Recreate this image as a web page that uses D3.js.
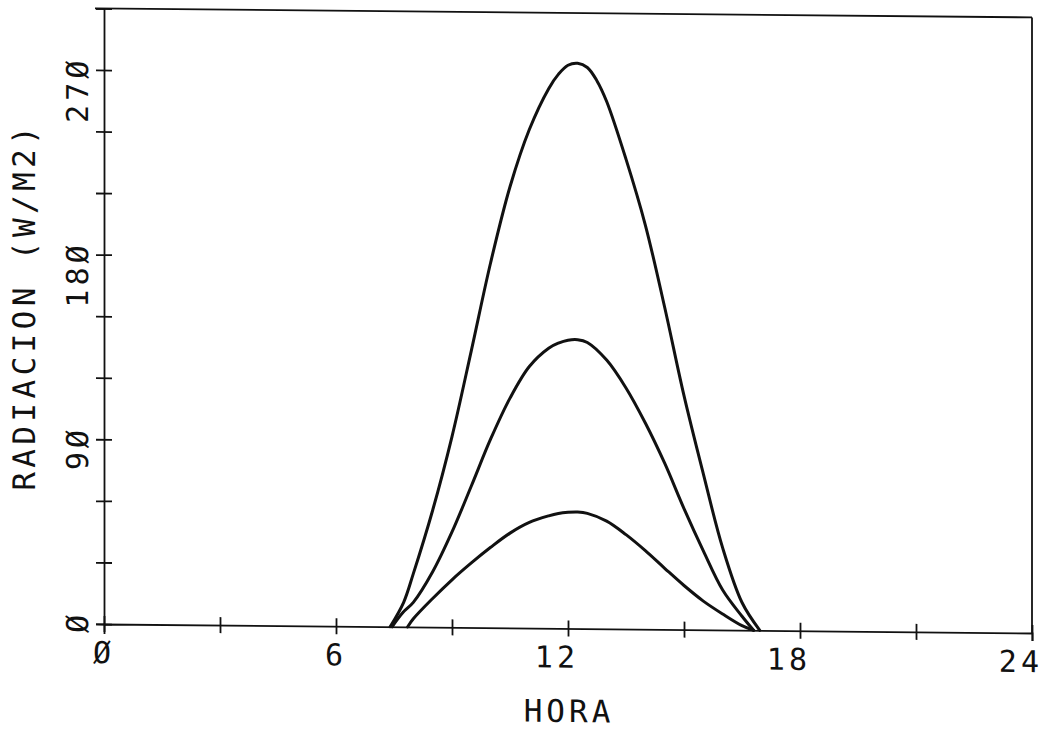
<!DOCTYPE html>
<html>
<head>
<meta charset="utf-8">
<script src="https://cdn.jsdelivr.net/npm/d3@7"></script>
<style>
  html, body { margin: 0; padding: 0; background: #fff; }
  svg { display: block; }
  text { font-family: "DejaVu Sans Mono", monospace; fill: #111; }
</style>
</head>
<body>
<svg id="chart" width="1043" height="730"></svg>
<script>
// Hour of day (x) and hourly solar radiation in W/m2 for three cases
const hoursHigh = [7.4, 7.75, 8.0, 8.5, 9.0, 9.5, 10.0, 10.5, 11.0, 11.5, 11.75, 12.0, 12.25, 12.5, 12.75, 13.0, 13.5, 14.0, 14.5, 15.0, 15.5, 16.0, 16.5, 16.96];
const radHigh   = [0, 12, 26, 57, 93, 135, 178, 215, 243, 263, 270, 274.5, 275.5, 273.5, 267, 257, 229, 197, 157, 114, 76, 40, 13.5, 0];

const hoursMid  = [7.45, 7.73, 8.0, 8.5, 9.0, 9.5, 10.0, 10.5, 11.0, 11.5, 11.75, 12.0, 12.25, 12.5, 13.0, 13.5, 14.0, 14.5, 15.0, 15.5, 16.0, 16.5, 16.8];
const radMid    = [0, 7, 12, 27, 46.5, 69, 92, 112, 127.5, 136.5, 139, 140.5, 140.8, 139.5, 131, 117.5, 100.5, 81, 59, 38.5, 19.5, 6.8, 0];

const hoursLow  = [7.85, 8.0, 8.5, 9.0, 9.5, 10.0, 10.5, 11.0, 11.5, 11.75, 12.0, 12.25, 12.5, 13.0, 13.5, 14.0, 14.5, 15.0, 15.5, 16.0, 16.5, 16.8];
const radLow    = [0, 4, 14, 23.2, 31.5, 39.2, 46.2, 51.5, 54.8, 56, 56.6, 56.8, 56.2, 52.5, 46, 38.3, 29.8, 21.5, 14, 7.8, 2.2, 0];

const xTicks      = [0, 3, 6, 9, 12, 15, 18, 21, 24];
const xTickLabels = [0, 6, 12, 18, 24];
const yTicks      = [0, 30, 60, 90, 120, 150, 180, 210, 240, 270, 300];
const yTickLabels = [0, 90, 180, 270];

const xTitle = "HORA";
const yTitle = "RADIACION (W/M2)";

const svg = d3.select("#chart");

// plotter sheet sits very slightly askew: lines drift down to the right
const k = 0.0097;
const g = svg.append("g").attr("transform", `matrix(1,${k},0,1,0,${-k * 104})`);

const x = d3.scaleLinear().domain([0, 24]).range([104, 1032]);
const y = d3.scaleLinear().domain([0, 300]).range([624, 8.4]);

const zero = s => String(s).replace(/0/g, "\u00D8");
const ink = "#111";

// frame: top edge and right edge
g.append("line")
  .attr("x1", x(0) - 9).attr("x2", x(24)).attr("y1", y(300)).attr("y2", y(300))
  .attr("stroke", ink).attr("stroke-width", 1.8);
g.append("line")
  .attr("x1", x(24)).attr("x2", x(24)).attr("y1", y(300)).attr("y2", y(0))
  .attr("stroke", ink).attr("stroke-width", 1.8);

// axes with ticks crossing the line on both sides
const xAxis = d3.axisBottom(x).tickValues(xTicks).tickSize(8).tickFormat("");
const xg = g.append("g").attr("transform", `translate(0,${y(0)})`).call(xAxis);
xg.selectAll(".tick line").attr("y1", -8);
const yAxis = d3.axisLeft(y).tickValues(yTicks).tickSize(8).tickFormat("");
const yg = g.append("g").attr("transform", `translate(${x(0)},0)`).call(yAxis);
yg.selectAll(".tick line").attr("x1", 8);
[xg, yg].forEach(a => {
  a.select(".domain").attr("stroke", ink).attr("stroke-width", 1.8);
  a.selectAll(".tick line").attr("stroke", ink).attr("stroke-width", 1.8);
});
xg.select(".tick line").attr("y2", 10);

// tick labels
g.selectAll(".xlab").data(xTickLabels).enter().append("text")
  .attr("class", "xlab")
  .attr("x", d => x(d) + 11)
  .attr("y", 663)
  .attr("text-anchor", "end")
  .attr("font-size", 30)
  .attr("letter-spacing", 4)
  .text(zero);

g.selectAll(".ylab").data(yTickLabels).enter().append("text")
  .attr("class", "ylab")
  .attr("transform", d => `translate(88,${y(d) - 13}) rotate(-90)`)
  .attr("text-anchor", "end")
  .attr("font-size", 30)
  .attr("letter-spacing", 4)
  .text(zero);

// axis titles
g.append("text")
  .attr("x", 569).attr("y", 717.5)
  .attr("text-anchor", "middle")
  .attr("font-size", 31)
  .attr("letter-spacing", 4)
  .text(xTitle);
g.append("text")
  .attr("transform", "translate(35,307) rotate(-90)")
  .attr("text-anchor", "middle")
  .attr("font-size", 31)
  .attr("letter-spacing", 4.4)
  .text(yTitle);

// radiation curves
const line = d3.line()
  .x(d => x(d[0]))
  .y(d => y(d[1]))
  .curve(d3.curveCatmullRom.alpha(0.5));

const series = [
  d3.zip(hoursHigh, radHigh),
  d3.zip(hoursMid, radMid),
  d3.zip(hoursLow, radLow)
];
g.selectAll(".curve").data(series).enter().append("path")
  .attr("class", "curve")
  .attr("d", line)
  .attr("fill", "none")
  .attr("stroke", ink)
  .attr("stroke-width", 3)
  .attr("stroke-linejoin", "round")
  .attr("stroke-linecap", "round");
</script>
</body>
</html>
